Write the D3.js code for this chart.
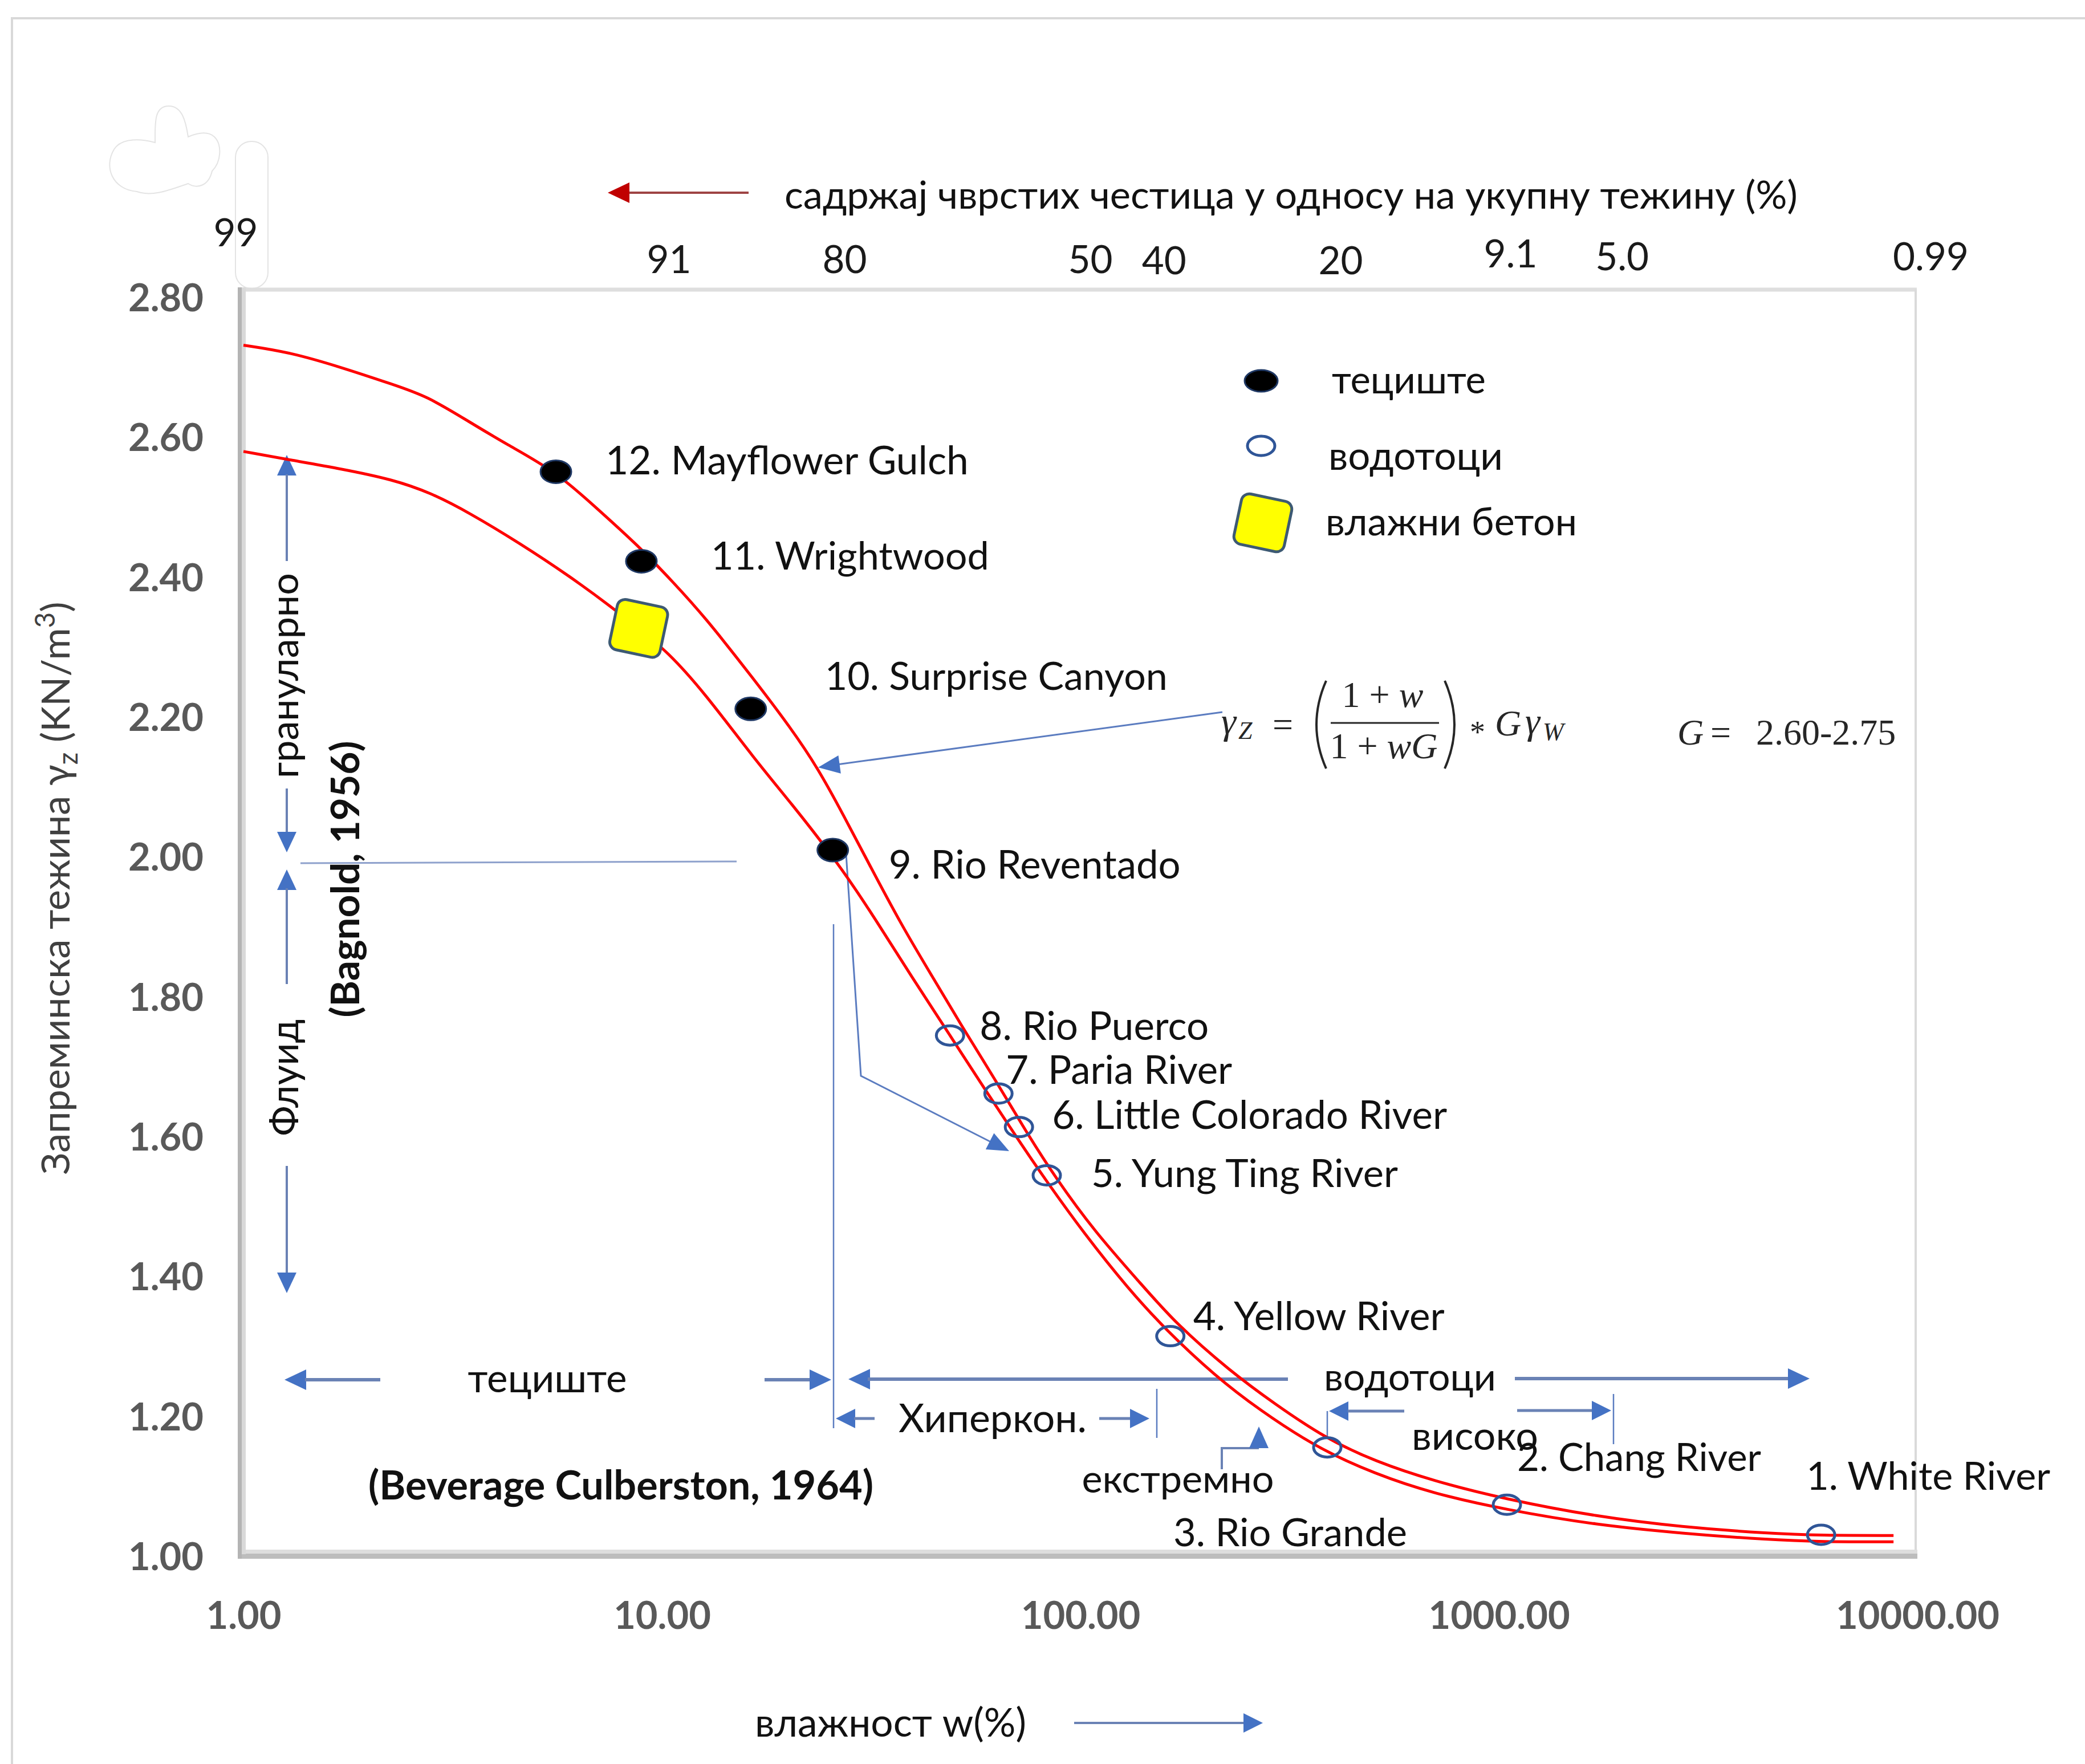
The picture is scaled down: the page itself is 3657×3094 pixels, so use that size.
<!DOCTYPE html>
<html><head><meta charset="utf-8">
<script src="https://cdn.jsdelivr.net/npm/d3@7"></script>
<style>html,body{margin:0;padding:0;background:#fff}svg{display:block}</style>
</head><body>
<svg id="c" width="3657" height="3094"></svg>
<script>
// ---------------- DATA ----------------
// moisture w (%) and unit weight gamma_z for the two red envelope curves
const upperW = [1.00, 1.29, 1.72, 2.27, 2.75, 3.45, 4.26, 5.56, 6.95, 8.79, 10.6, 12.6, 16.6, 20.3, 23.6, 27.1, 31.2, 37.5, 44.2, 51.6, 62.7, 74.2, 87.1, 108, 139, 169, 228, 290, 385, 506, 697, 1035, 1710, 2746, 4382, 5888, 8770];
const upperG = [2.732, 2.722, 2.700, 2.676, 2.659, 2.623, 2.590, 2.552, 2.500, 2.445, 2.394, 2.345, 2.254, 2.185, 2.127, 2.061, 1.991, 1.901, 1.830, 1.762, 1.681, 1.607, 1.542, 1.465, 1.391, 1.333, 1.265, 1.219, 1.169, 1.136, 1.108, 1.082, 1.057, 1.042, 1.033, 1.030, 1.030];
const lowerW = [1.00, 1.29, 1.72, 2.27, 2.80, 3.45, 4.57, 6.04, 7.56, 8.79, 10.3, 12.6, 16.6, 20.5, 25.3, 29.2, 33.5, 39.6, 48.2, 59.4, 71.9, 83.1, 102, 130, 160, 210, 267, 368, 506, 697, 1035, 1710, 2746, 4382, 5888, 8770];
const lowerG = [2.580, 2.568, 2.555, 2.540, 2.521, 2.493, 2.449, 2.401, 2.358, 2.327, 2.294, 2.236, 2.141, 2.075, 2.005, 1.952, 1.897, 1.828, 1.750, 1.666, 1.591, 1.536, 1.462, 1.383, 1.324, 1.258, 1.210, 1.155, 1.118, 1.090, 1.067, 1.045, 1.033, 1.024, 1.021, 1.021];

// тециште (debris flows) – filled dots
const flowNames = ["12. Mayflower Gulch", "11. Wrightwood", "10. Surprise Canyon", "9. Rio Reventado"];
const flowW = [5.58, 8.93, 16.3, 25.6];
const flowG = [2.551, 2.423, 2.212, 2.010];

// водотоци (rivers) – open circles
const riverNames = ["8. Rio Puerco", "7. Paria River", "6. Little Colorado River", "5. Yung Ting River", "4. Yellow River", "3. Rio Grande", "2. Chang River", "1. White River"];
const riverW = [48.8, 63.7, 71.3, 83.1, 164, 389, 1045, 5888];
const riverG = [1.745, 1.662, 1.614, 1.545, 1.315, 1.156, 1.074, 1.031];

// влажни бетон (wet concrete)
const concreteW = [8.8];
const concreteG = [2.327];

// axes
const xTicks = [1, 10, 100, 1000, 10000];
const yTicks = [1.0, 1.2, 1.4, 1.6, 1.8, 2.0, 2.2, 2.4, 2.6, 2.8];
const topTickW = [1, 10, 25, 100, 150, 400, 1000, 1900, 10000];
const topTickLabels = ["99", "91", "80", "50", "40", "20", "9.1", "5.0", "0.99"];

// ---------------- LAYOUT ----------------
const FONT = "Lato, 'Open Sans', 'Noto Sans', sans-serif";
const SERIF = "'Liberation Serif', 'DejaVu Serif', serif";
const BLUE = "#4472C4", LBLUE = "#6A82B5", TBLUE = "#5B7CC0";
const svg = d3.select("#c");
svg.append("rect").attr("width", 3657).attr("height", 3094).attr("fill", "#fff");

const x = d3.scaleLog().domain([1, 10000]).range([427, 3363]);
const y = d3.scaleLinear().domain([1.0, 2.8]).range([2730, 522]);
const plotL = 427, plotR = 3360, plotT = 508, plotB = 2726;

function fit(t, target) {
  const L = t.node().getComputedTextLength();
  if (L > 0) t.attr("font-size", (parseFloat(t.attr("font-size")) * target / L).toFixed(2));
  return t;
}
function label(str, x0, y0, o = {}) {
  const t = (o.parent || svg).append("text")
    .attr("x", o.rot ? 0 : x0).attr("y", o.rot ? 0 : y0)
    .attr("transform", o.rot ? `translate(${x0},${y0}) rotate(${o.rot})` : null)
    .attr("text-anchor", o.anchor || "start")
    .attr("dy", o.dy || "0.35em")
    .attr("font-family", o.family || FONT)
    .attr("font-size", o.size || 62)
    .attr("font-weight", o.weight || "normal")
    .attr("font-style", o.style || "normal")
    .attr("fill", o.fill || "#111")
    .text(str);
  if (o.width) fit(t, o.width);
  return t;
}
function seg(pts, color, w) {
  svg.append("path").attr("d", "M" + pts.map(p => p.join(",")).join("L"))
    .attr("fill", "none").attr("stroke", color).attr("stroke-width", w)
    .attr("stroke-linejoin", "miter");
}
function head(tx, ty, fx, fy, len = 36, hw = 17, color = BLUE) {
  const a = Math.atan2(ty - fy, tx - fx);
  const bx = tx - len * Math.cos(a), by = ty - len * Math.sin(a);
  const px = -Math.sin(a) * hw, py = Math.cos(a) * hw;
  svg.append("path").attr("d", `M${tx},${ty}L${bx + px},${by + py}L${bx - px},${by - py}Z`).attr("fill", color);
}

// outer chart frame
svg.append("path").attr("d", "M21,3094V32H3657").attr("fill", "none").attr("stroke", "#D9D9D9").attr("stroke-width", 4);

// faint ghost shapes near "99"
svg.append("rect").attr("x", 413).attr("y", 248).attr("width", 57).attr("height", 258).attr("rx", 28)
  .attr("fill", "none").attr("stroke", "#E4E4E4").attr("stroke-width", 2);
svg.append("path").attr("d", "M200,262C182,292 196,332 240,336C268,346 300,332 330,322C346,332 366,326 372,300C388,284 390,254 376,240C364,229 344,234 330,240C326,214 320,186 296,186C270,186 272,216 272,250C250,244 214,240 200,262Z")
  .attr("fill", "none").attr("stroke", "#E4E4E4").attr("stroke-width", 2);

// plot frame
svg.append("line").attr("x1", plotL).attr("x2", plotR + 2).attr("y1", plotT).attr("y2", plotT).attr("stroke", "#DEDEDE").attr("stroke-width", 7);
svg.append("line").attr("x1", plotR).attr("x2", plotR).attr("y1", plotT).attr("y2", plotB).attr("stroke", "#DADADA").attr("stroke-width", 4);
svg.append("rect").attr("x", 417).attr("y", 2718).attr("width", 2946).attr("height", 7).attr("fill", "#DEDEDE");
svg.append("rect").attr("x", 417).attr("y", 2725).attr("width", 2946).attr("height", 9).attr("fill", "#BDBDBD");
svg.append("rect").attr("x", 417).attr("y", 504).attr("width", 7).attr("height", 2230).attr("fill", "#B4B4B4");
svg.append("rect").attr("x", 424).attr("y", 504).attr("width", 7).attr("height", 2222).attr("fill", "#D9D9D9");

// y axis
const yAxis = svg.append("g").attr("transform", `translate(${plotL},0)`)
  .call(d3.axisLeft(y).tickValues(yTicks).tickFormat(d3.format(".2f")).tickSize(0).tickPadding(70));
yAxis.select(".domain").remove();
yAxis.selectAll("text").attr("font-family", FONT).attr("font-weight", "bold").attr("font-size", 66).attr("fill", "#595959").attr("dy", "0.35em");
// x axis
const xAxis = svg.append("g").attr("transform", `translate(0,${y(1.0)})`)
  .call(d3.axisBottom(x).tickValues(xTicks).tickFormat(d3.format(".2f")).tickSize(0).tickPadding(80));
xAxis.select(".domain").remove();
xAxis.selectAll("text").attr("font-family", FONT).attr("font-weight", "bold").attr("font-size", 66).attr("fill", "#595959");
{
  const ref = xAxis.selectAll("text").filter(d => d === 10000);
  const L = ref.node().getComputedTextLength();
  const fs = 66 * 287 / L;
  xAxis.selectAll("text").attr("font-size", fs);
  yAxis.selectAll("text").attr("font-size", fs);
}
// top axis (solids content %)
const topDx = [-14, 12, 28, 17, 17, 14, 20, 11, 23];
const topY = [408, 455, 455, 455, 457, 457, 445, 450, 450];
const topAxis = svg.append("g")
  .call(d3.axisTop(x).tickValues(topTickW).tickFormat(d => topTickLabels[topTickW.indexOf(d)]).tickSize(0));
topAxis.select(".domain").remove();
topAxis.selectAll(".tick text").each(function (d) {
  const i = topTickW.indexOf(d);
  d3.select(this).attr("x", topDx[i]).attr("y", topY[i]).attr("dy", "0.35em")
    .attr("font-family", FONT).attr("font-size", 66).attr("fill", "#1A1A1A");
});
{
  const ref = topAxis.selectAll(".tick text").filter(d => d === 10000);
  const L = ref.node().getComputedTextLength();
  topAxis.selectAll(".tick text").attr("font-size", 66 * 133 / L);
}

// axis titles
label("садржај чврстих честица у односу на укупну тежину (%)", 1376, 345, { width: 1777, dy: "0.3em" });
seg([[1313, 338], [1098, 338]], "#9E4444", 4);
head(1066, 338, 1313, 338, 38, 18, "#C00000");

const yt = svg.append("text").attr("transform", "translate(98,1558) rotate(-90)").attr("text-anchor", "middle")
  .attr("dy", "0.35em").attr("font-family", FONT).attr("font-size", 62).attr("fill", "#404040");
yt.append("tspan").text("Запреминска тежина γ");
yt.append("tspan").attr("font-size", "70%").attr("dy", "0.3em").text("z");
yt.append("tspan").attr("dy", "-0.21em").text(" (KN/m");
yt.append("tspan").attr("font-size", "70%").attr("dy", "-0.55em").text("3");
yt.append("tspan").attr("dy", "0.385em").text(")");
fit(yt, 1005);

label("влажност w(%)", 1562, 3025, { anchor: "middle", width: 476, dy: "0.3em" });
seg([[1884, 3022], [2185, 3022]], LBLUE, 4);
head(2215, 3022, 1884, 3022, 34, 17);

// ---------------- ANNOTATIONS ----------------
// left vertical arrows (грануларно / Флуид)
head(503, 798, 503, 900);
seg([[503, 832], [503, 984]], LBLUE, 4);
label("грануларно", 503, 1185, { rot: -90, anchor: "middle", width: 360, dy: "0.3em" });
seg([[503, 1383], [503, 1462]], LBLUE, 4);
head(503, 1495, 503, 1400);
head(503, 1525, 503, 1600);
seg([[503, 1558], [503, 1726]], LBLUE, 4);
label("Флуид", 503, 1890, { rot: -90, anchor: "middle", width: 205, dy: "0.3em" });
seg([[503, 2045], [503, 2235]], LBLUE, 4);
head(503, 2268, 503, 2200);
label("(Bagnold, 1956)", 606, 1542, { rot: -90, anchor: "middle", weight: "bold", width: 485 });

// horizontal line at ~2.00
seg([[527, 1514], [1292, 1511]], "#8EA1CC", 3);

// formula arrow
seg([[2144, 1249], [1468, 1341]], TBLUE, 3);
head(1435, 1346, 2144, 1249, 38, 16);

// Rio Reventado connector
seg([[1484, 1498], [1510, 1887], [1738, 2003]], TBLUE, 3);
head(1770, 2019, 1510, 1887, 38, 16);

// vertical divider
seg([[1462, 1621], [1462, 2505]], TBLUE, 2.5);

// тециште row
head(499, 2420, 600, 2420, 38, 18);
seg([[535, 2420], [667, 2420]], LBLUE, 6);
label("тециште", 960, 2421, { anchor: "middle", width: 279, dy: "0.3em" });
seg([[1341, 2420], [1424, 2420]], LBLUE, 6);
head(1458, 2420, 1341, 2420, 38, 18);

// водотоци row
head(1488, 2419, 1600, 2419, 38, 18);
seg([[1522, 2419], [2259, 2419]], LBLUE, 6);
label("водотоци", 2473, 2419, { anchor: "middle", width: 302, dy: "0.3em" });
seg([[2657, 2418], [3140, 2418]], LBLUE, 6);
head(3174, 2418, 2657, 2418, 38, 18);

// Хиперкон. row
head(1466, 2488, 1540, 2488, 34, 17);
seg([[1498, 2488], [1534, 2488]], LBLUE, 5);
label("Хиперкон.", 1741, 2490, { anchor: "middle", width: 330, dy: "0.32em" });
seg([[1928, 2488], [1984, 2488]], LBLUE, 5);
head(2016, 2488, 1928, 2488, 34, 17);
seg([[2029, 2436], [2029, 2522]], TBLUE, 2.5);

// екстремно
seg([[2143, 2577], [2143, 2540], [2208, 2540]], LBLUE, 4);
head(2208, 2502, 2208, 2560, 38, 17);
label("екстремно", 2066, 2598, { anchor: "middle", width: 337, dy: "0.3em" });

// високо
head(2331, 2475, 2400, 2475, 34, 17);
seg([[2364, 2475], [2463, 2475]], LBLUE, 5);
seg([[2328, 2475], [2328, 2522]], TBLUE, 2.5);
label("високо", 2587, 2522, { anchor: "middle", width: 222, dy: "0.3em" });
seg([[2661, 2474], [2794, 2474]], LBLUE, 5);
head(2826, 2474, 2661, 2474, 34, 17);
seg([[2830, 2445], [2830, 2533]], TBLUE, 2.5);

// Beverage Culberston
label("(Beverage Culberston, 1964)", 1089, 2605, { anchor: "middle", weight: "bold", width: 886 });

// formula
const fm = svg.append("g").attr("font-family", SERIF).attr("fill", "#262626");
function ft(str, x0, y0, size, italic, anchor) {
  return fm.append("text").attr("x", x0).attr("y", y0).attr("font-size", size)
    .attr("font-style", italic ? "italic" : "normal").attr("text-anchor", anchor || "start").text(str);
}
ft("γ", 2142, 1287, 66, true);
ft("Z", 2172, 1296, 44, true);
ft("=", 2232, 1292, 64, false);
fm.append("path").attr("d", "M2326,1194Q2292,1271 2326,1348").attr("fill", "none").attr("stroke", "#262626").attr("stroke-width", 4);
const num = fm.append("text").attr("x", 2425).attr("y", 1240).attr("font-size", 64).attr("text-anchor", "middle");
num.append("tspan").text("1 + ");
num.append("tspan").attr("font-style", "italic").text("w");
fm.append("line").attr("x1", 2334).attr("x2", 2524).attr("y1", 1268).attr("y2", 1268).attr("stroke", "#262626").attr("stroke-width", 3);
const den = fm.append("text").attr("x", 2427).attr("y", 1330).attr("font-size", 64).attr("text-anchor", "middle");
den.append("tspan").text("1 + ");
den.append("tspan").attr("font-style", "italic").text("wG");
fm.append("path").attr("d", "M2534,1194Q2568,1271 2534,1348").attr("fill", "none").attr("stroke", "#262626").attr("stroke-width", 4);
ft("*", 2578, 1302, 54, false);
ft("G", 2622, 1290, 64, true);
ft("γ", 2675, 1287, 66, true);
ft("W", 2706, 1298, 44, true);
ft("G", 2942, 1306, 64, true);
ft("=", 3000, 1306, 64, false);
ft("2.60-2.75", 3080, 1306, 64, false);

// ---------------- CURVES ----------------
const line = d3.line().x(d => x(d[0])).y(d => y(d[1])).curve(d3.curveBasis);
svg.append("path").datum(upperW.map((w, i) => [w, upperG[i]])).attr("d", line)
  .attr("fill", "none").attr("stroke", "#FF0000").attr("stroke-width", 5);
svg.append("path").datum(lowerW.map((w, i) => [w, lowerG[i]])).attr("d", line)
  .attr("fill", "none").attr("stroke", "#FF0000").attr("stroke-width", 5);

// ---------------- MARKERS ----------------
function sq(cx, cy) {
  svg.append("rect").attr("x", -45).attr("y", -45).attr("width", 90).attr("height", 90).attr("rx", 14)
    .attr("transform", `translate(${cx},${cy}) rotate(12)`)
    .attr("fill", "#FFFF00").attr("stroke", "#3D5A73").attr("stroke-width", 5);
}
concreteW.forEach((w, i) => sq(x(w), y(concreteG[i])));

flowW.forEach((w, i) => {
  svg.append("ellipse").attr("cx", x(w)).attr("cy", y(flowG[i])).attr("rx", 27).attr("ry", 20)
    .attr("fill", "#000").attr("stroke", "#1F3864").attr("stroke-width", 3);
});
riverW.forEach((w, i) => {
  svg.append("ellipse").attr("cx", x(w)).attr("cy", y(riverG[i])).attr("rx", 24).attr("ry", 17)
    .attr("fill", "none").attr("stroke", "#2F5597").attr("stroke-width", 5);
});

// point labels
const flowDx = [87, 122, 130, 98], flowDy = [-20, -9, -57, 26], flowLW = [637, 488, 601, 512];
flowW.forEach((w, i) => label(flowNames[i], x(w) + flowDx[i], y(flowG[i]) + flowDy[i], { width: flowLW[i] }));
const riverDx = [52, 13, 58, 78, 40, -270, 18, -26], riverDy = [-16, -41, -21, -3, -35, 149, -83, -103];
const riverLW = [402, 397, 693, 538, 441, 410, 428, 428];
riverW.forEach((w, i) => label(riverNames[i], x(w) + riverDx[i], y(riverG[i]) + riverDy[i], { width: riverLW[i] }));

// ---------------- LEGEND ----------------
svg.append("ellipse").attr("cx", 2212).attr("cy", 668).attr("rx", 29).attr("ry", 19).attr("fill", "#000").attr("stroke", "#1F3864").attr("stroke-width", 3);
label("тециште", 2336, 670, { width: 270, dy: "0.3em" });
svg.append("ellipse").attr("cx", 2212).attr("cy", 782).attr("rx", 24).attr("ry", 17).attr("fill", "none").attr("stroke", "#2F5597").attr("stroke-width", 5);
label("водотоци", 2330, 803, { width: 306, dy: "0.3em" });
sq(2215, 917);
label("влажни бетон", 2325, 917, { width: 441, dy: "0.32em" });
</script>
</body></html>
